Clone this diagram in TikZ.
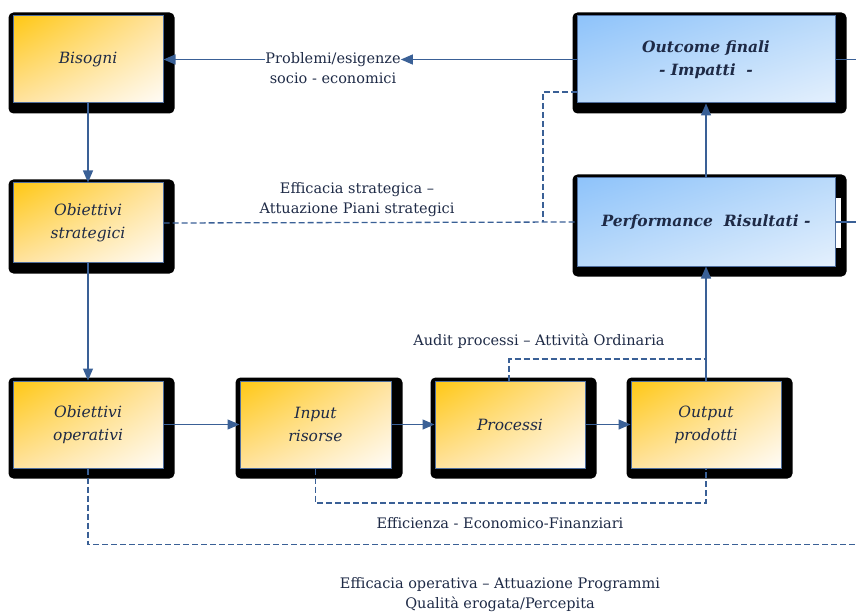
\documentclass[tikz,border=0pt]{standalone}
\usepackage{fontspec}
\setmainfont{DejaVu Serif}
\usetikzlibrary{arrows.meta,backgrounds,shadings}
\definecolor{navy}{RGB}{30,42,70}
\definecolor{lnk}{RGB}{58,96,150}
\definecolor{edge}{RGB}{79,110,158}
\definecolor{orA}{RGB}{255,200,20}
\definecolor{orB}{RGB}{255,226,158}
\definecolor{orC}{RGB}{255,252,247}
\definecolor{blA}{RGB}{142,195,250}
\definecolor{blB}{RGB}{186,218,250}
\definecolor{blC}{RGB}{228,240,253}
\tikzset{
  basebox/.style={draw=edge, line width=1pt, minimum width=150pt, minimum height=87pt,
    inner sep=0pt, align=center, text=navy, font=\fontsize{15.5}{23}\selectfont\itshape},
  orbox/.style={basebox, upper left=orA, upper right=orB, lower left=orB, lower right=orC},
  blbox/.style={basebox, minimum width=258pt, upper left=blA, upper right=blB, lower left=blB, lower right=blC,
    font=\fontsize{15.5}{23}\selectfont\bfseries\itshape},
  conn/.style={draw=lnk, line width=1.3pt, -{Triangle[length=12pt,width=10pt]}},
  plain/.style={draw=lnk, line width=1.3pt},
  dashline/.style={draw=lnk, line width=1.3pt, dash pattern=on 6pt off 3pt},
  lbl/.style={text=navy, inner sep=0pt, font=\fontsize{14.5}{20}\selectfont, align=center},
}
\begin{document}
\begin{tikzpicture}[x=1pt,y=-1pt]
\useasboundingbox (0,0) rectangle (856,612);
% boxes
\node[orbox] (bis) at (88,59.5) {Bisogni};
\node[orbox, minimum height=80pt] (str) at (88,223) {Obiettivi\\strategici};
\node[orbox] (ope) at (88,424.5) {Obiettivi\\operativi};
\node[orbox, minimum width=151pt] (inp) at (315.5,424.5) {Input\\risorse};
\node[orbox] (pro) at (510,424.5) {Processi};
\node[orbox] (out) at (706,424.5) {Output\\prodotti};
\node[blbox, minimum height=87pt] (imp) at (706,59.5) {Outcome finali\\- Impatti\ \ -};
\node[blbox, minimum height=88pt] (per) at (706,222) {Performance\ \ Risultati -};
% shadows
\begin{scope}[on background layer]
\foreach \n in {bis,str,ope,inp,pro,out,imp,per}{
  \fill[black, rounded corners=5pt] ([shift={(-4,-3)}]\n.north west) rectangle ([shift={(11,10)}]\n.south east);
}
\fill[white] (835.5,198) rectangle (841,248);
\end{scope}
% labels
\node[lbl] (pa) at (333,59.5) {Problemi/esigenze};
\node[lbl] (pb) at (333,78) {socio - economici};
\node[lbl] (es) at (357,199.5) {Efficacia strategica –\\Attuazione Piani strategici};
\node[lbl] (au) at (539,341) {Audit processi – Attività Ordinaria};
\node[lbl] (ef) at (500,523) {Efficienza - Economico-Finanziari};
\node[lbl] (eo) at (500,594.5) {Efficacia operativa – Attuazione Programmi\\Qualità erogata/Percepita};
% coordinates
\coordinate (impR) at (856,59.5);
\coordinate (perR) at (856,222);
\coordinate (impL) at (577,92);
\coordinate (jn) at (543,222);
\coordinate (auT) at (509,359);
\coordinate (efB) at (315.5,503);
\coordinate (eoB) at (88,544.5);
\coordinate (eoR) at (856,544.5);
% solid connectors
\draw[conn] (imp.west) -- (pa.east);
\draw[conn] (pa.west) -- (bis.east);
\draw[conn] (bis.south) -- (str.north);
\draw[conn] (str.south) -- (ope.north);
\draw[conn] (ope.east) -- (inp.west);
\draw[conn] (inp.east) -- (pro.west);
\draw[conn] (pro.east) -- (out.west);
\draw[conn] (out.north) -- (per.south);
\draw[conn] (per.north) -- (imp.south);
\draw[plain] (imp.east) -- (impR);
\draw[plain] (per.east) -- (perR);
% dashed connectors
\draw[dashline] (str.east) -- (per.west);
\draw[dashline] (impL) -| (jn);
\draw[dashline] (pro.north -| auT) -- (auT) -- (auT -| out.north);
\draw[dashline] (inp.south) -- (efB) -| (out.south);
\draw[dashline] (ope.south) -- (eoB) -- (eoR);
\end{tikzpicture}
\end{document}
